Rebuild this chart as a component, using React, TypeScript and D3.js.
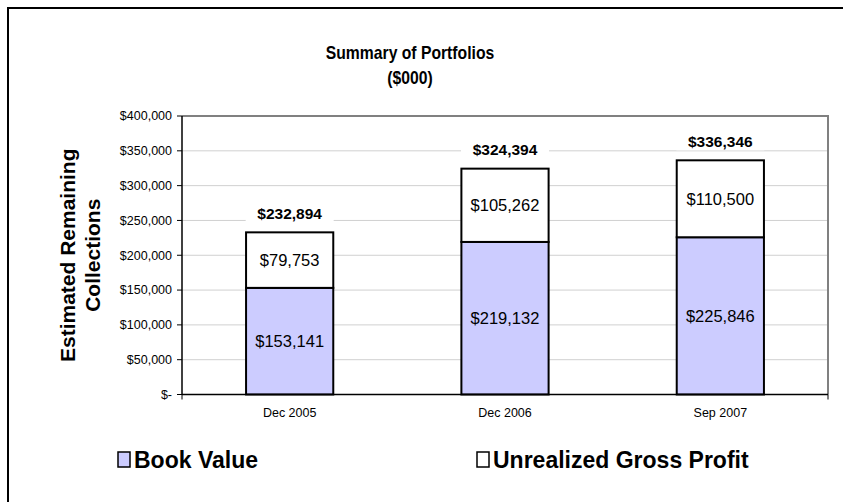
import React from "react";
import * as d3 from "d3";

const categories = ["Dec 2005", "Dec 2006", "Sep 2007"];
const bookValue = [153141, 219132, 225846];
const unrealizedProfit = [79753, 105262, 110500];
const totals = [232894, 324394, 336346];
const yTicks = [0, 50000, 100000, 150000, 200000, 250000, 300000, 350000, 400000];
const seriesNames = ["Book Value", "Unrealized Gross Profit"];

const W = 843;
const H = 502;
const plot = { left: 182, right: 828, top: 116, bottom: 394.5 };
const FONT = "Arial, 'Liberation Sans', Helvetica, sans-serif";

const fmt = (v: number) => "$" + d3.format(",")(v);
const tickFmt = (v: number) => (v === 0 ? "$-" : "$" + d3.format(",")(v));

export default function App() {
  const x = d3
    .scaleBand<string>()
    .domain(categories)
    .range([plot.left, plot.right])
    .paddingInner(0.595)
    .paddingOuter(0.2975);
  const y = d3.scaleLinear().domain([0, 400000]).range([plot.bottom, plot.top]);
  const bw = x.bandwidth();

  return (
    <svg
      width={W}
      height={H}
      style={{ position: "absolute", left: 0, top: 0, background: "#fff" }}
      fontFamily={FONT}
    >
      <rect x={0} y={0} width={W} height={H} fill="#fff" />
      {/* outer border */}
      <path d={`M8,${H} V8 H${W}`} fill="none" stroke="#000" strokeWidth={2} />

      {/* title */}
      <g transform="translate(410,0) scale(0.85,1)">
        <text x={0} y={59} textAnchor="middle" fontSize={18.5} fontWeight="bold">
          Summary of Portfolios
        </text>
        <text x={0} y={84} textAnchor="middle" fontSize={18.5} fontWeight="bold">
          ($000)
        </text>
      </g>

      {/* grid lines */}
      {yTicks.slice(1, -1).map((t) => (
        <line
          key={t}
          x1={plot.left}
          x2={plot.right}
          y1={y(t)}
          y2={y(t)}
          stroke="#d0d0d0"
          strokeWidth={1}
        />
      ))}
      {/* plot frame top & right */}
      <path
        d={`M${plot.left},${y(400000)} H${plot.right} V${plot.bottom}`}
        fill="none"
        stroke="#808080"
        strokeWidth={2}
      />

      {/* y axis */}
      <line x1={plot.left} x2={plot.left} y1={plot.top} y2={plot.bottom} stroke="#000" strokeWidth={1.5} />
      {yTicks.map((t) => (
        <g key={t}>
          <line x1={plot.left - 5} x2={plot.left} y1={y(t)} y2={y(t)} stroke="#000" strokeWidth={1} />
          <text x={plot.left - 10} y={y(t)} dy="0.35em" textAnchor="end" fontSize={12.5}>
            {tickFmt(t)}
          </text>
        </g>
      ))}

      {/* y axis title */}
      <g transform={`translate(75,${(plot.top + plot.bottom) / 2}) rotate(-90)`}>
        <text x={0} y={0} textAnchor="middle" fontSize={21} fontWeight="bold">
          Estimated Remaining
        </text>
        <text x={0} y={25} textAnchor="middle" fontSize={21} fontWeight="bold">
          Collections
        </text>
      </g>

      {/* bars */}
      {categories.map((c, i) => {
        const x0 = x(c)!;
        const cx = x0 + bw / 2;
        const bTop = y(bookValue[i]);
        const uTop = y(bookValue[i] + unrealizedProfit[i]);
        const tTop = y(totals[i]);
        return (
          <g key={c}>
            <rect x={x0} y={bTop} width={bw} height={plot.bottom - bTop} fill="#CCCCFF" stroke="#000" strokeWidth={2} />
            <rect x={x0} y={uTop} width={bw} height={bTop - uTop} fill="#fff" stroke="#000" strokeWidth={2} />
            <text x={cx} y={(bTop + plot.bottom) / 2} dy="0.35em" textAnchor="middle" fontSize={16.5}>
              {fmt(bookValue[i])}
            </text>
            <text x={cx} y={(uTop + bTop) / 2} dy="0.35em" textAnchor="middle" fontSize={16.5}>
              {fmt(unrealizedProfit[i])}
            </text>
            <rect x={cx - 44} y={tTop - 30} width={88} height={20} fill="#fff" />
            <text x={cx} y={tTop - 19} dy="0.35em" textAnchor="middle" fontSize={15.5} fontWeight="bold">
              {fmt(totals[i])}
            </text>
            <text x={cx} y={413} dy="0.35em" textAnchor="middle" fontSize={12.5}>
              {c}
            </text>
          </g>
        );
      })}

      {/* x axis */}
      <line x1={plot.left} x2={plot.right} y1={plot.bottom} y2={plot.bottom} stroke="#000" strokeWidth={1.5} />
      {[plot.left, plot.right].map((px, i) => (
        <line key={i} x1={px} x2={px} y1={plot.bottom} y2={plot.bottom + 5} stroke="#000" strokeWidth={1} />
      ))}

      {/* legend */}
      <g>
        <rect x={118} y={452} width={12} height={15} fill="#CCCCFF" stroke="#000" strokeWidth={1.5} />
        <text x={134} y={460} dy="0.35em" fontSize={23} fontWeight="bold">
          {seriesNames[0]}
        </text>
        <rect x={477} y={452} width={12} height={15} fill="#fff" stroke="#000" strokeWidth={1.5} />
        <text x={493} y={460} dy="0.35em" fontSize={23} fontWeight="bold">
          {seriesNames[1]}
        </text>
      </g>
    </svg>
  );
}
